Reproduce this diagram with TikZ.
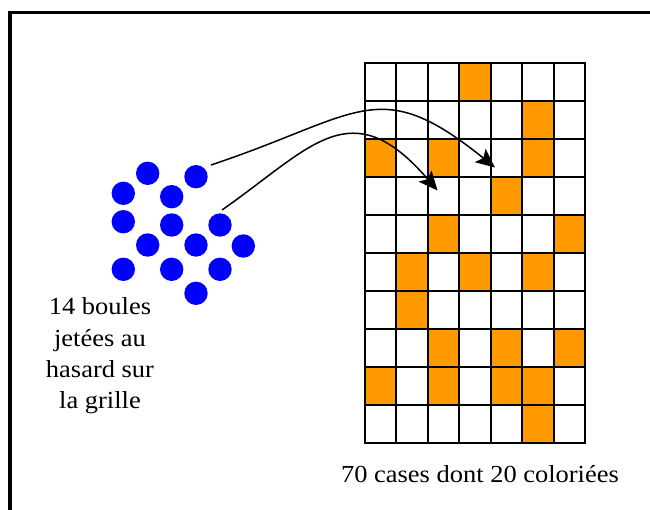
\documentclass[tikz,border=0pt]{standalone}
\usepackage{fontspec}
\setmainfont{Liberation Serif}[FakeStretch=1.08]
\usetikzlibrary{arrows.meta}
\definecolor{cellorange}{RGB}{255,153,0}
\definecolor{ballblue}{RGB}{0,0,255}
\tikzset{
  ball/.style={circle, fill=ballblue, minimum size=23.4pt, inner sep=0pt},
  cell/.style={fill=cellorange},
  gridline/.style={line width=2pt, line cap=rect},
  frame/.style={line width=3.5pt},
  throw/.style={line width=1.5pt, -{Stealth[length=19pt, width=17pt, inset=4pt]}},
  label/.style={font=\fontsize{24.5pt}{31pt}\selectfont, inner sep=0pt, anchor=base}
}
\begin{document}
\begin{tikzpicture}[x=1pt,y=-1pt]
\useasboundingbox (0,0) rectangle (650,510);
\fill[white] (0,0) rectangle (650,510);
% frame (right and bottom edges lie outside the picture)
\draw[frame] (10,12.5) rectangle (700,600);

% grid geometry
\def\gx{365}\def\gy{63.3}\def\cw{31.4286}\def\ch{38}
% coloured cells: {col/row}
\foreach \c/\r in {3/0, 5/1, 0/2, 2/2, 5/2, 4/3, 2/4, 6/4, 1/5, 3/5, 5/5, 1/6,
                   2/7, 4/7, 6/7, 0/8, 2/8, 4/8, 5/8, 5/9}
  \fill[cell] ({\gx+\c*\cw},{\gy+\r*\ch}) rectangle ++(\cw,\ch);
\foreach \i in {0,...,7}
  \draw[gridline] ({\gx+\i*\cw},\gy) -- ({\gx+\i*\cw},{\gy+10*\ch});
\foreach \j in {0,...,10}
  \draw[gridline] (\gx,{\gy+\j*\ch}) -- ({\gx+7*\cw},{\gy+\j*\ch});

% balls
\node[ball] (b1)  at (147.7,173.3) {};
\node[ball] (b2)  at (196,176.7) {};
\node[ball] (b3)  at (123.3,193.3) {};
\node[ball] (b4)  at (171.7,196.7) {};
\node[ball] (b5)  at (123.3,221.7) {};
\node[ball] (b6)  at (171.7,225) {};
\node[ball] (b7)  at (220,225) {};
\node[ball] (b8)  at (147.7,245) {};
\node[ball] (b9)  at (196,245) {};
\node[ball] (b10) at (243.3,246) {};
\node[ball] (b11) at (123.3,269.3) {};
\node[ball] (b12) at (171.7,269.3) {};
\node[ball] (b13) at (220,269.3) {};
\node[ball] (b14) at (196,293.3) {};

% arrows
\coordinate (s1) at (211,165);
\coordinate (e1) at (495,167.5);
\coordinate (s2) at (222,210);
\coordinate (e2) at (437.5,190.5);
\draw[throw] (s1) .. controls (361,115) and (378,73) .. (e1);
\draw[throw] (s2) .. controls (312,147) and (351,90) .. (e2);

% texts
\node[label] (t1) at (100,315) {14 boules};
\node[label] (t2) at (100,346) {jetées au};
\node[label] (t3) at (100,377) {hasard sur};
\node[label] (t4) at (100,408) {la grille};
\node[label] (t5) at (480,482) {70 cases dont 20 coloriées};
\end{tikzpicture}
\end{document}
